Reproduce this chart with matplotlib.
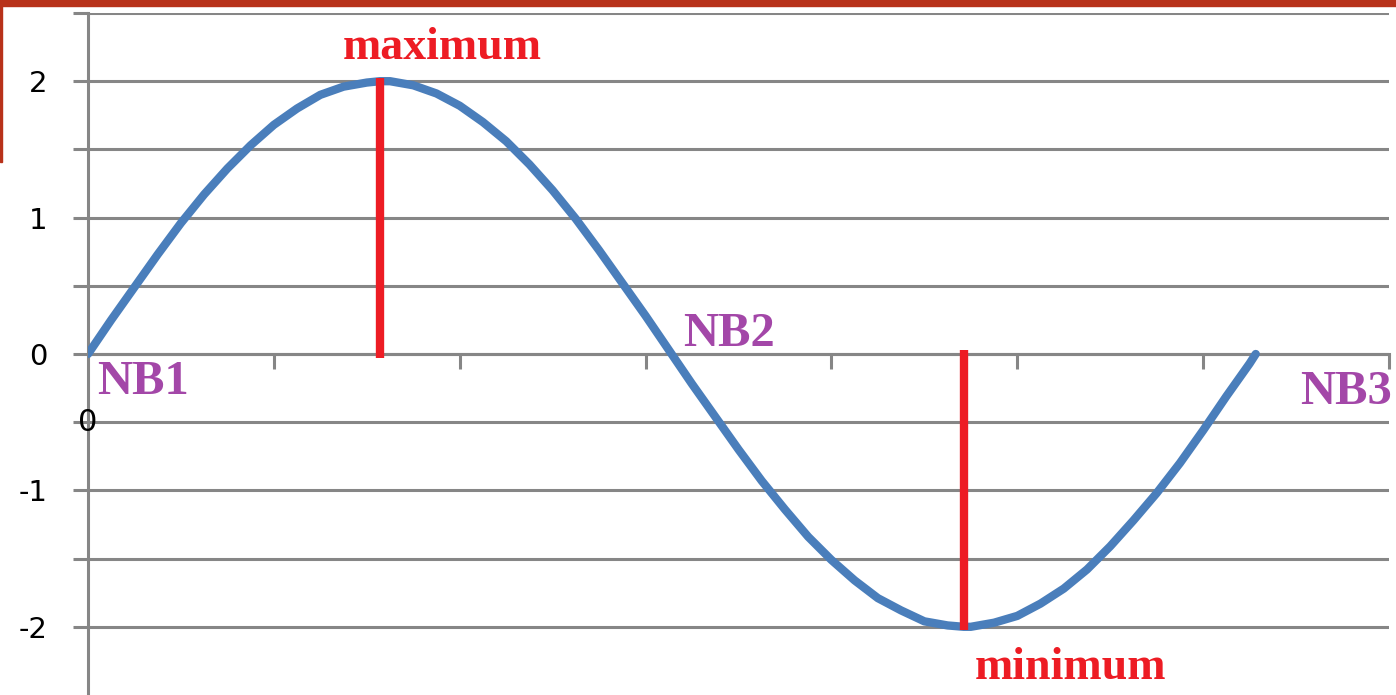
import matplotlib.pyplot as plt
from matplotlib.patches import Rectangle

# curve points (x in radians, y amplitude)
wave_x = [0, 0.125, 0.25, 0.375, 0.5, 0.625, 0.75, 0.875, 1.0, 1.125, 1.25, 1.375, 1.5,
          1.571, 1.625, 1.75, 1.875, 2.0, 2.125, 2.25, 2.375, 2.5, 2.625, 2.75, 2.875,
          3.0, 3.125, 3.25, 3.375, 3.5, 3.625, 3.75, 3.875, 4.0, 4.125, 4.25, 4.375,
          4.5, 4.625, 4.712, 4.75, 4.875, 5.0, 5.125, 5.25, 5.375, 5.5, 5.625, 5.75,
          5.875, 6.0, 6.125, 6.25, 6.283]
wave_y = [0, 0.25, 0.49, 0.73, 0.96, 1.17, 1.36, 1.53, 1.68, 1.80, 1.90, 1.96, 1.99,
          2.0, 2.0, 1.97, 1.91, 1.82, 1.70, 1.56, 1.39, 1.20, 0.99, 0.76, 0.52,
          0.28, 0.03, -0.22, -0.46, -0.70, -0.93, -1.14, -1.34, -1.51, -1.66, -1.79, -1.88,
          -1.96, -1.99, -2.0, -2.0, -1.97, -1.92, -1.83, -1.72, -1.58, -1.41, -1.22, -1.02,
          -0.80, -0.56, -0.31, -0.07, 0]

# red markers at the extremes
extreme_x = [1.571, 4.712]
extreme_lo = [-0.03, -2.02]
extreme_hi = [2.02, 0.03]

# annotations
labels = ['NB1', 'NB2', 'NB3']
label_x = [0.05, 3.2, 6.52]
label_y = [-0.29, 0.06, -0.37]
extreme_names = ['maximum', 'minimum']
name_x = [1.37, 4.77]
name_y = [2.16, -2.38]

ytick_vals = [-2, -1.5, -1, -0.5, 0, 0.5, 1, 1.5, 2, 2.5]
ytick_text = ['-2', '', '-1', '', '0', '', '1', '', '2', '']

W, H = 1396, 695
fig = plt.figure(figsize=(W / 100, H / 100), dpi=100)
ax = fig.add_axes([88 / W, 0, 1301 / W, 682 / H])

gray = '#868686'
ax.set_xlim(0, 7)
ax.set_ylim(-2.5, 2.5)

ax.plot(wave_x, wave_y, color='#4A7EBB', lw=6, solid_capstyle='round', zorder=3)
ax.vlines(extreme_x, extreme_lo, extreme_hi, color='#ED1C24', lw=6, zorder=4)

for t, x, y in zip(labels, label_x, label_y):
    ax.text(x, y, t, color='#A347A8', fontsize=35, family='Liberation Serif',
            weight='bold', va='baseline', ha='left', zorder=5, clip_on=False)
for t, x, y in zip(extreme_names, name_x, name_y):
    ax.text(x, y, t, color='#ED1C24', fontsize=33, family='Liberation Serif',
            weight='bold', va='baseline', ha='left', zorder=5, clip_on=False)

# stray label left over under the axis
ax.text(0, -0.5, '0', fontsize=22, ha='center', va='center', zorder=5)

ax.set_yticks(ytick_vals)
ax.set_yticklabels(ytick_text)
ax.set_xticks([1, 2, 3, 4, 5, 6, 7])
ax.set_xticklabels([])
ax.tick_params(axis='y', length=10.8, width=2.2, color=gray, pad=18.5, labelsize=21)
ax.tick_params(axis='x', direction='out', length=10.8, width=2.2, color=gray)
ax.grid(axis='y', color=gray, lw=2.2)
for gl in ax.get_ygridlines():
    gl.set_clip_on(False)
ax.set_axisbelow(True)

for s in ['top', 'right']:
    ax.spines[s].set_visible(False)
ax.spines['bottom'].set_position(('data', 0))
ax.spines['left'].set_position(('data', 0))
for s in ['bottom', 'left']:
    ax.spines[s].set_color(gray)
    ax.spines[s].set_linewidth(2.2)
ax.spines['left'].set_bounds(-2.6, 2.5)

# frame remnant at top and left edge
fig.patches.append(Rectangle((0, 1 - 6 / H), 1, 6 / H, transform=fig.transFigure,
                             color='#B8321A', zorder=10))
fig.patches.append(Rectangle((0, 1 - 162 / H), 2 / W, 162 / H, transform=fig.transFigure,
                             color='#B8321A', zorder=10))

fig.savefig('out.png', dpi=100)
